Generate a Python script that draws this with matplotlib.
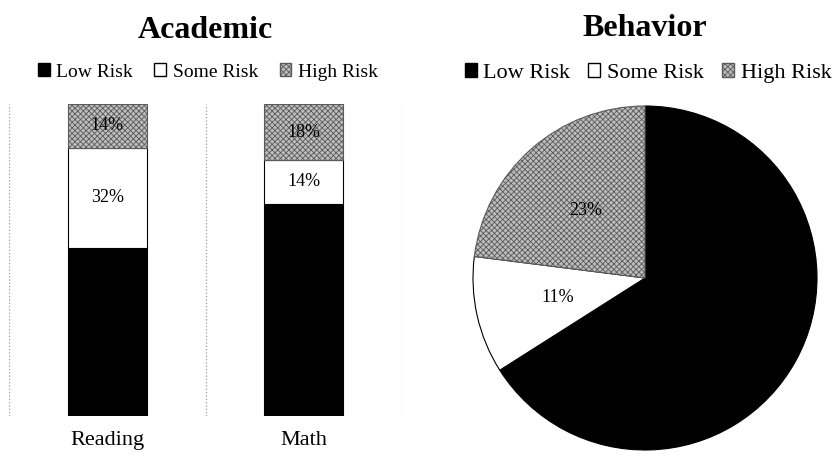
import matplotlib
matplotlib.use("Agg")
import matplotlib.pyplot as plt
from matplotlib.patches import Patch

plt.rcParams['font.family'] = ['Liberation Serif', 'DejaVu Serif']
plt.rcParams['hatch.linewidth'] = 0.6

# Данные
subjects = ['Reading', 'Math']
low_risk = [54, 68]
some_risk = [32, 14]
high_risk = [14, 18]

behavior_labels = ['Low Risk', 'Some Risk', 'High Risk']
behavior_values = [66, 11, 23]

risk_names = ['Low Risk', 'Some Risk', 'High Risk']
gray_face = '#bdbdbd'
gray_hatch = '#5a5a5a'
hatch_style = 'xxxxxx'

fig = plt.figure(figsize=(8.32, 4.55), dpi=100)

# --- Academic: stacked bars ---
ax1 = fig.add_axes([9 / 832, (455 - 416) / 455, 393 / 832, 312 / 455])
x = list(range(len(subjects)))
bottom_some = low_risk
bottom_high = [a + b for a, b in zip(low_risk, some_risk)]

ax1.bar(x, low_risk, width=0.4, color='black', edgecolor='black', linewidth=0.8)
ax1.bar(x, some_risk, width=0.4, bottom=bottom_some, color='white',
        edgecolor='black', linewidth=0.8)
ax1.bar(x, high_risk, width=0.4, bottom=bottom_high, color=gray_face,
        edgecolor=gray_hatch, linewidth=0.8, hatch=hatch_style)

for i in x:
    ax1.text(i, bottom_some[i] + some_risk[i] / 2, f"{some_risk[i]}%",
             ha='center', va='center', fontsize=13)
    ax1.text(i, bottom_high[i] + high_risk[i] / 2, f"{high_risk[i]}%",
             ha='center', va='center', fontsize=13)

ax1.set_xlim(-0.5, len(subjects) - 0.5)
ax1.set_ylim(0, 100)
for xv in [-0.5, 0.5, 1.5]:
    ax1.axvline(xv, color='#999999', linestyle=':', linewidth=0.9)
for s in ax1.spines.values():
    s.set_visible(False)
ax1.set_yticks([])
ax1.set_xticks(x)
ax1.set_xticklabels(subjects, fontsize=16)
ax1.tick_params(axis='x', length=0, pad=11)

# --- Behavior: pie ---
ax2 = fig.add_axes([473 / 832, (455 - 450) / 455, 344 / 832, 344 / 455])
wedges, texts, autotexts = ax2.pie(
    behavior_values, colors=['black', 'white', gray_face], startangle=90,
    counterclock=False, autopct='%d%%', pctdistance=0.52,
    wedgeprops=dict(edgecolor='black', linewidth=0.8),
    textprops=dict(fontsize=13))
wedges[2].set_hatch(hatch_style)
wedges[2].set_edgecolor(gray_hatch)
autotexts[0].set_color('black')
ax2.set_xlim(-1, 1)
ax2.set_ylim(-1, 1)

# --- Titles ---
fig.text(205 / 832, 1 - 30 / 455, 'Academic', ha='center', va='center',
         fontsize=23, fontweight='bold')
fig.text(645 / 832, 1 - 28 / 455, 'Behavior', ha='center', va='center',
         fontsize=23, fontweight='bold')

# --- Legends ---
handles = [Patch(facecolor='black', edgecolor='black'),
           Patch(facecolor='white', edgecolor='black'),
           Patch(facecolor=gray_face, edgecolor=gray_hatch, hatch=hatch_style)]

fig.legend(handles, risk_names, loc='center', ncol=3,
           bbox_to_anchor=(208 / 832, 1 - 72 / 455), frameon=False,
           fontsize=14, handlelength=0.6, handleheight=0.6,
           handletextpad=0.35, columnspacing=1.1, borderpad=0)
fig.legend(handles, behavior_labels, loc='center', ncol=3,
           bbox_to_anchor=(648 / 832, 1 - 73 / 455), frameon=False,
           fontsize=16, handlelength=0.55, handleheight=0.55,
           handletextpad=0.3, columnspacing=0.8, borderpad=0)

fig.savefig('out.png', dpi=100)
